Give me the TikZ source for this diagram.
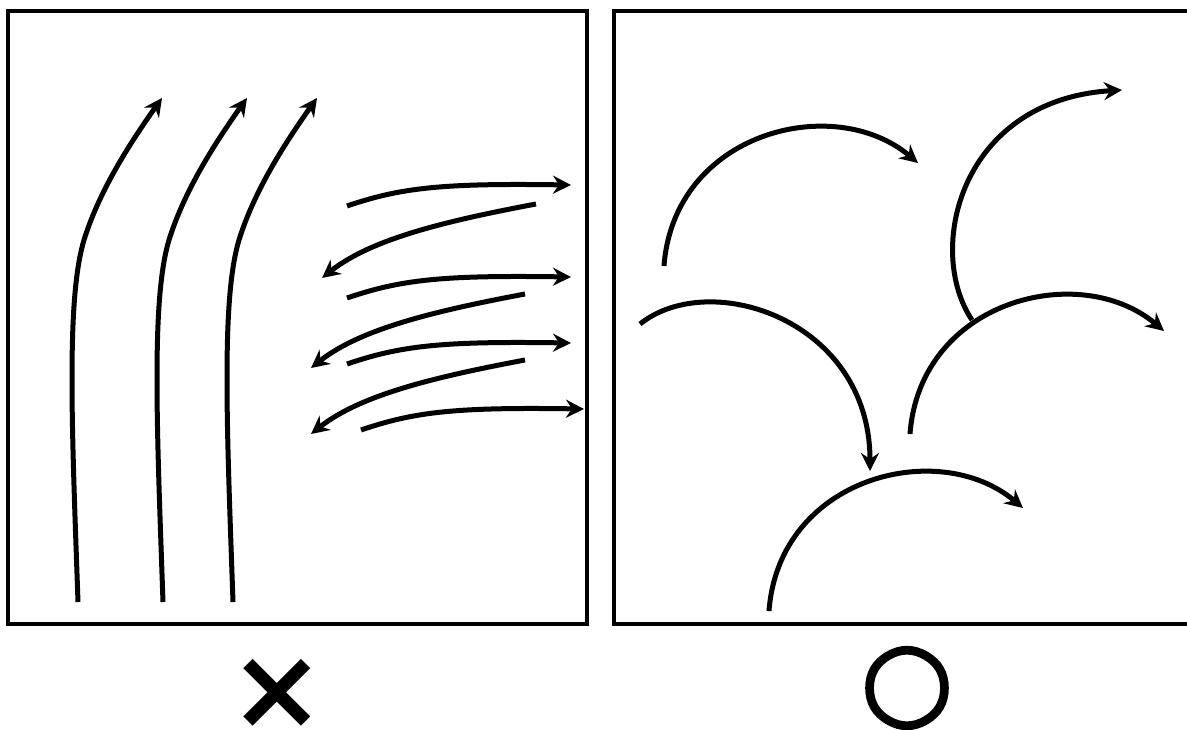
\documentclass[tikz,border=0pt]{standalone}
\usepackage{fontspec}
\newfontfamily\markfont{DejaVu Sans}
\newfontfamily\okfont[FakeBold=2.5]{DejaVu Sans}
\usetikzlibrary{arrows.meta}
\tikzset{
  flw/.style={-{Stealth[length=18pt,width=18pt,inset=6pt]}, line width=5pt},
  panelbox/.style={draw, line width=3.2pt},
  verdict/.style={inner sep=0pt}
}

\begin{document}
\begin{tikzpicture}[x=1pt, y=-1pt]
\useasboundingbox (0,0) rectangle (1187,729);
% left panel: streams that split apart
\draw[panelbox] (8,11) rectangle (587,624);
\foreach \dx in {0,85,155}
  \draw[flw, xshift=\dx pt] (78,602) .. controls (72,430) and (66,300) .. (84,240)
    .. controls (98,195) and (125,150) .. (162,98);
\foreach \dy in {0,92,158}
  \draw[flw, yshift=-\dy pt] (347,206) .. controls (400,188) and (440,183) .. (571,185);
\draw[flw] (361,430) .. controls (414,412) and (454,407) .. (584,409);
\foreach \dx/\dy in {0/0,-11/90,-11/156}
  \draw[flw, xshift=\dx pt, yshift=-\dy pt] (536,204) .. controls (440,222) and (370,240) .. (322,278);
% right panel: one flowing motion
\draw[panelbox] (614,11) rectangle (1195,624);
\draw[flw] (664,266) .. controls (674,132) and (834,92) .. (918,163);
\draw[flw] (972,320) .. controls (925,250) and (960,100) .. (1122,90);
\draw[flw] (640,324) .. controls (710,268) and (870,320) .. (870,471);
\draw[flw] (910,434) .. controls (920,300) and (1080,260) .. (1164,331);
\draw[flw] (769,611) .. controls (779,477) and (939,437) .. (1023,508);
% verdicts
\node[verdict, font=\markfont\bfseries\fontsize{114}{114}\selectfont] (ng) at (277,694) {×};
\node[verdict, font=\okfont\fontsize{106}{106}\selectfont] (ok) at (907,688) {○};
\end{tikzpicture}
\end{document}
